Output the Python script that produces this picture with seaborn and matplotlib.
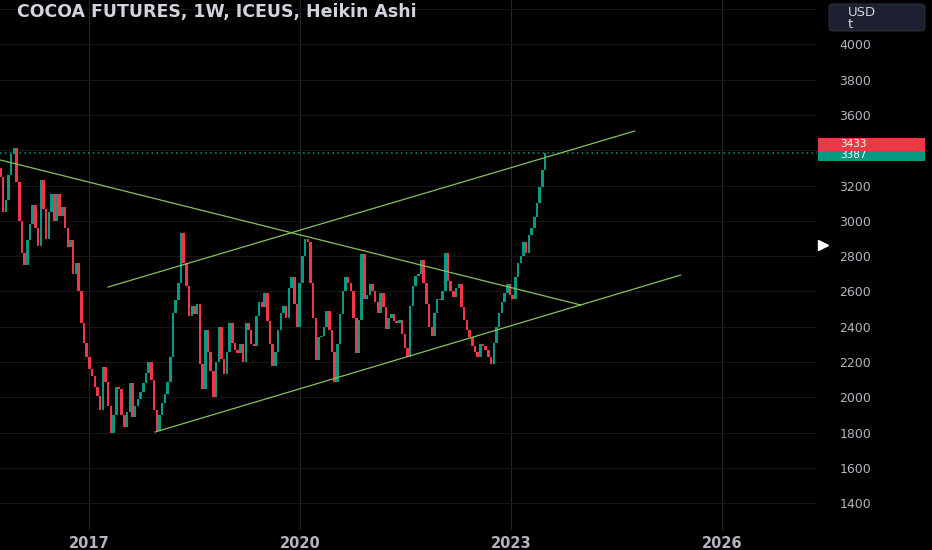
"""
Cocoa futures, weekly Heikin Ashi view with hand-drawn trend lines.
Rebuilds a TradingView-style dark chart and writes out.png.
"""

import matplotlib

matplotlib.use("Agg")

import matplotlib.pyplot as plt
import numpy as np
import pandas as pd
import seaborn as sns
from matplotlib.lines import Line2D
from matplotlib.patches import FancyBboxPatch, Rectangle
from matplotlib.transforms import Affine2D

# ---------------------------------------------------------------------------
# Data (two-week steps)
# ---------------------------------------------------------------------------

START = "2015-09-28"
STEP = "14D"
FIRST_OPEN = 3300
CLOSES = [
    3250, 3050, 3120, 3260, 3380, 3415, 3220, 3000, 2820, 2750,
    2890, 2980, 3090, 2960, 2860, 3230, 3070, 2900, 3050, 3150,
    3000, 3150, 3030, 3080, 2960, 2850, 2890, 2700, 2760, 2600,
    2420, 2310, 2230, 2160, 2120, 2060, 2010, 1930, 2170, 2090,
    1950, 1800, 1900, 2060, 2050, 1900, 1830, 1920, 2080, 1890,
    1950, 1990, 2030, 2080, 2140, 2200, 2100, 1930, 1810, 1900,
    1970, 2020, 2090, 2230, 2480, 2550, 2650, 2930, 2760, 2630,
    2460, 2520, 2470, 2530, 2190, 2050, 2380, 2260, 2150, 2000,
    2200, 2400, 2220, 2130, 2260, 2420, 2310, 2270, 2250, 2300,
    2200, 2420, 2380, 2300, 2290, 2460, 2540, 2510, 2590, 2430,
    2300, 2180, 2260, 2380, 2480, 2520, 2450, 2620, 2680, 2530,
    2400, 2650, 2800, 2900, 2880, 2650, 2450, 2210, 2340, 2350,
    2400, 2490, 2380, 2260, 2090, 2300, 2470, 2600, 2680, 2650,
    2600, 2450, 2250, 2440, 2810, 2560, 2580, 2640, 2600, 2540,
    2480, 2590, 2510, 2390, 2450, 2470, 2430, 2420, 2440, 2360,
    2280, 2230, 2520, 2630, 2690, 2700, 2780, 2650, 2530, 2400,
    2350, 2480, 2560, 2550, 2600, 2820, 2660, 2600, 2570, 2620,
    2640, 2510, 2440, 2380, 2340, 2290, 2260, 2230, 2300, 2290,
    2270, 2230, 2190, 2310, 2400, 2480, 2540, 2590, 2640, 2580,
    2560, 2680, 2760, 2800, 2880, 2820, 2920, 2960, 3020, 3100,
    3190, 3290, 3387,
]

LAST_PRICE = 3433
LAST_HA_CLOSE = 3387
ALERT_PRICE = 2863

TREND_NAMES = ["falling", "channel_top", "channel_bottom"]
TREND_START_DATES = ["2015-09-27", "2017-04-08", "2017-12-09"]
TREND_START_PRICES = [3345, 2625, 1804]
TREND_END_DATES = ["2023-12-30", "2024-10-04", "2025-05-30"]
TREND_END_PRICES = [2523, 3509, 2693]

PRICE_TICKS = list(range(1400, 4201, 200))
HIDDEN_TICKS = [3400, 4200]
YEAR_TICKS = ["2017-01-01", "2020-01-01", "2023-01-01", "2026-01-01"]
YEAR_LABELS = ["2017", "2020", "2023", "2026"]

TITLE = "COCOA FUTURES, 1W, ICEUS, Heikin Ashi"

# ---------------------------------------------------------------------------
# Style
# ---------------------------------------------------------------------------

W, H = 932, 550
BG = "#000000"
UP = "#089981"
DOWN = "#f23645"
TREND = "#86c25a"
TEXT = "#b2b5be"
GRID_H = "#161616"
GRID_V = "#262626"

sns.set_theme(style="dark")
plt.rcParams["font.family"] = ["DejaVu Sans"]


def main() -> None:
    fig = plt.figure(figsize=(W / 100, H / 100), dpi=100, facecolor=BG)
    # pixel coordinates, origin top-left
    px = Affine2D().scale(1 / W, -1 / H).translate(0, 1) + fig.transFigure

    ax = fig.add_axes([0, 20 / H, 817 / W, 530 / H])
    ax.set_facecolor(BG)
    for sp in ax.spines.values():
        sp.set_visible(False)

    # candles: body from the previous close to the current close
    dates = pd.date_range(START, periods=len(CLOSES), freq=STEP)
    closes = np.array(CLOSES, dtype=float)
    opens = np.concatenate([[FIRST_OPEN], closes[:-1]])
    colors = np.where(closes >= opens, UP, DOWN)
    ax.bar(dates, closes - opens, bottom=opens, width=13, color=colors,
           linewidth=0, zorder=3)

    # trend lines
    trend = pd.DataFrame({
        "line": TREND_NAMES * 2,
        "date": pd.to_datetime(TREND_START_DATES + TREND_END_DATES),
        "price": TREND_START_PRICES + TREND_END_PRICES,
    })
    sns.lineplot(data=trend, x="date", y="price", units="line", estimator=None,
                 color=TREND, lw=0.9, ax=ax, legend=False, zorder=4)

    ax.axhline(LAST_HA_CLOSE, color=UP, ls=(0, (1, 2.2)), lw=1.1, zorder=2)

    ax.set_xlim(pd.Timestamp("2015-09-26"), pd.Timestamp("2027-05-08"))
    ax.set_ylim(1249, 4251)
    ax.set_xlabel("")
    ax.set_ylabel("")

    ax.set_yticks(PRICE_TICKS)
    ax.set_yticklabels(["" if v in HIDDEN_TICKS else str(v) for v in PRICE_TICKS])
    ax.yaxis.tick_right()
    ax.tick_params(axis="y", length=0, pad=16, labelsize=9, labelcolor=TEXT)

    ax.set_xticks(pd.to_datetime(YEAR_TICKS))
    ax.set_xticklabels(YEAR_LABELS, fontweight="bold")
    ax.tick_params(axis="x", length=0, pad=4, labelsize=10.5, labelcolor=TEXT)

    ax.set_axisbelow(True)
    ax.yaxis.grid(True, color=GRID_H, lw=0.8)
    ax.xaxis.grid(True, color=GRID_V, lw=0.8)

    # header
    fig.text(17, 12.5, TITLE, transform=px, ha="left", va="center",
             fontsize=12.5, fontweight="bold", color="#d1d4dc")

    fig.add_artist(FancyBboxPatch((829, 4), 96, 27, transform=px,
                                  boxstyle="round,pad=0,rounding_size=4",
                                  facecolor="#1c2030", edgecolor="#2a2e39", lw=0.8))
    fig.text(848, 12, "USD", transform=px, ha="left", va="center",
             fontsize=9.5, color="#d1d4dc")
    fig.text(848, 24.5, "t", transform=px, ha="left", va="center",
             fontsize=9.5, color="#d1d4dc")

    # last price tags (the red tag sits over the green one)
    fig.add_artist(Rectangle((818, 147), 107, 13.5, transform=px,
                             facecolor=UP, lw=0, zorder=5))
    fig.text(840, 155.5, f"{LAST_HA_CLOSE}", transform=px, ha="left", va="center",
             fontsize=7.5, color="white", zorder=6)
    fig.add_artist(Rectangle((818, 138), 107, 13, transform=px,
                             facecolor=DOWN, lw=0, zorder=7))
    fig.text(840, 144, f"{LAST_PRICE}", transform=px, ha="left", va="center",
             fontsize=7.5, color="white", zorder=8)

    # alert marker on the price scale
    y_alert = ax.transData.transform((0, ALERT_PRICE))[1]
    fig.add_artist(Line2D([823 / W], [y_alert / fig.bbox.height],
                          transform=fig.transFigure, marker=">", markersize=7,
                          color="white", linestyle="none"))

    fig.savefig("out.png", dpi=100, facecolor=BG)
    plt.close(fig)


if __name__ == "__main__":
    main()
